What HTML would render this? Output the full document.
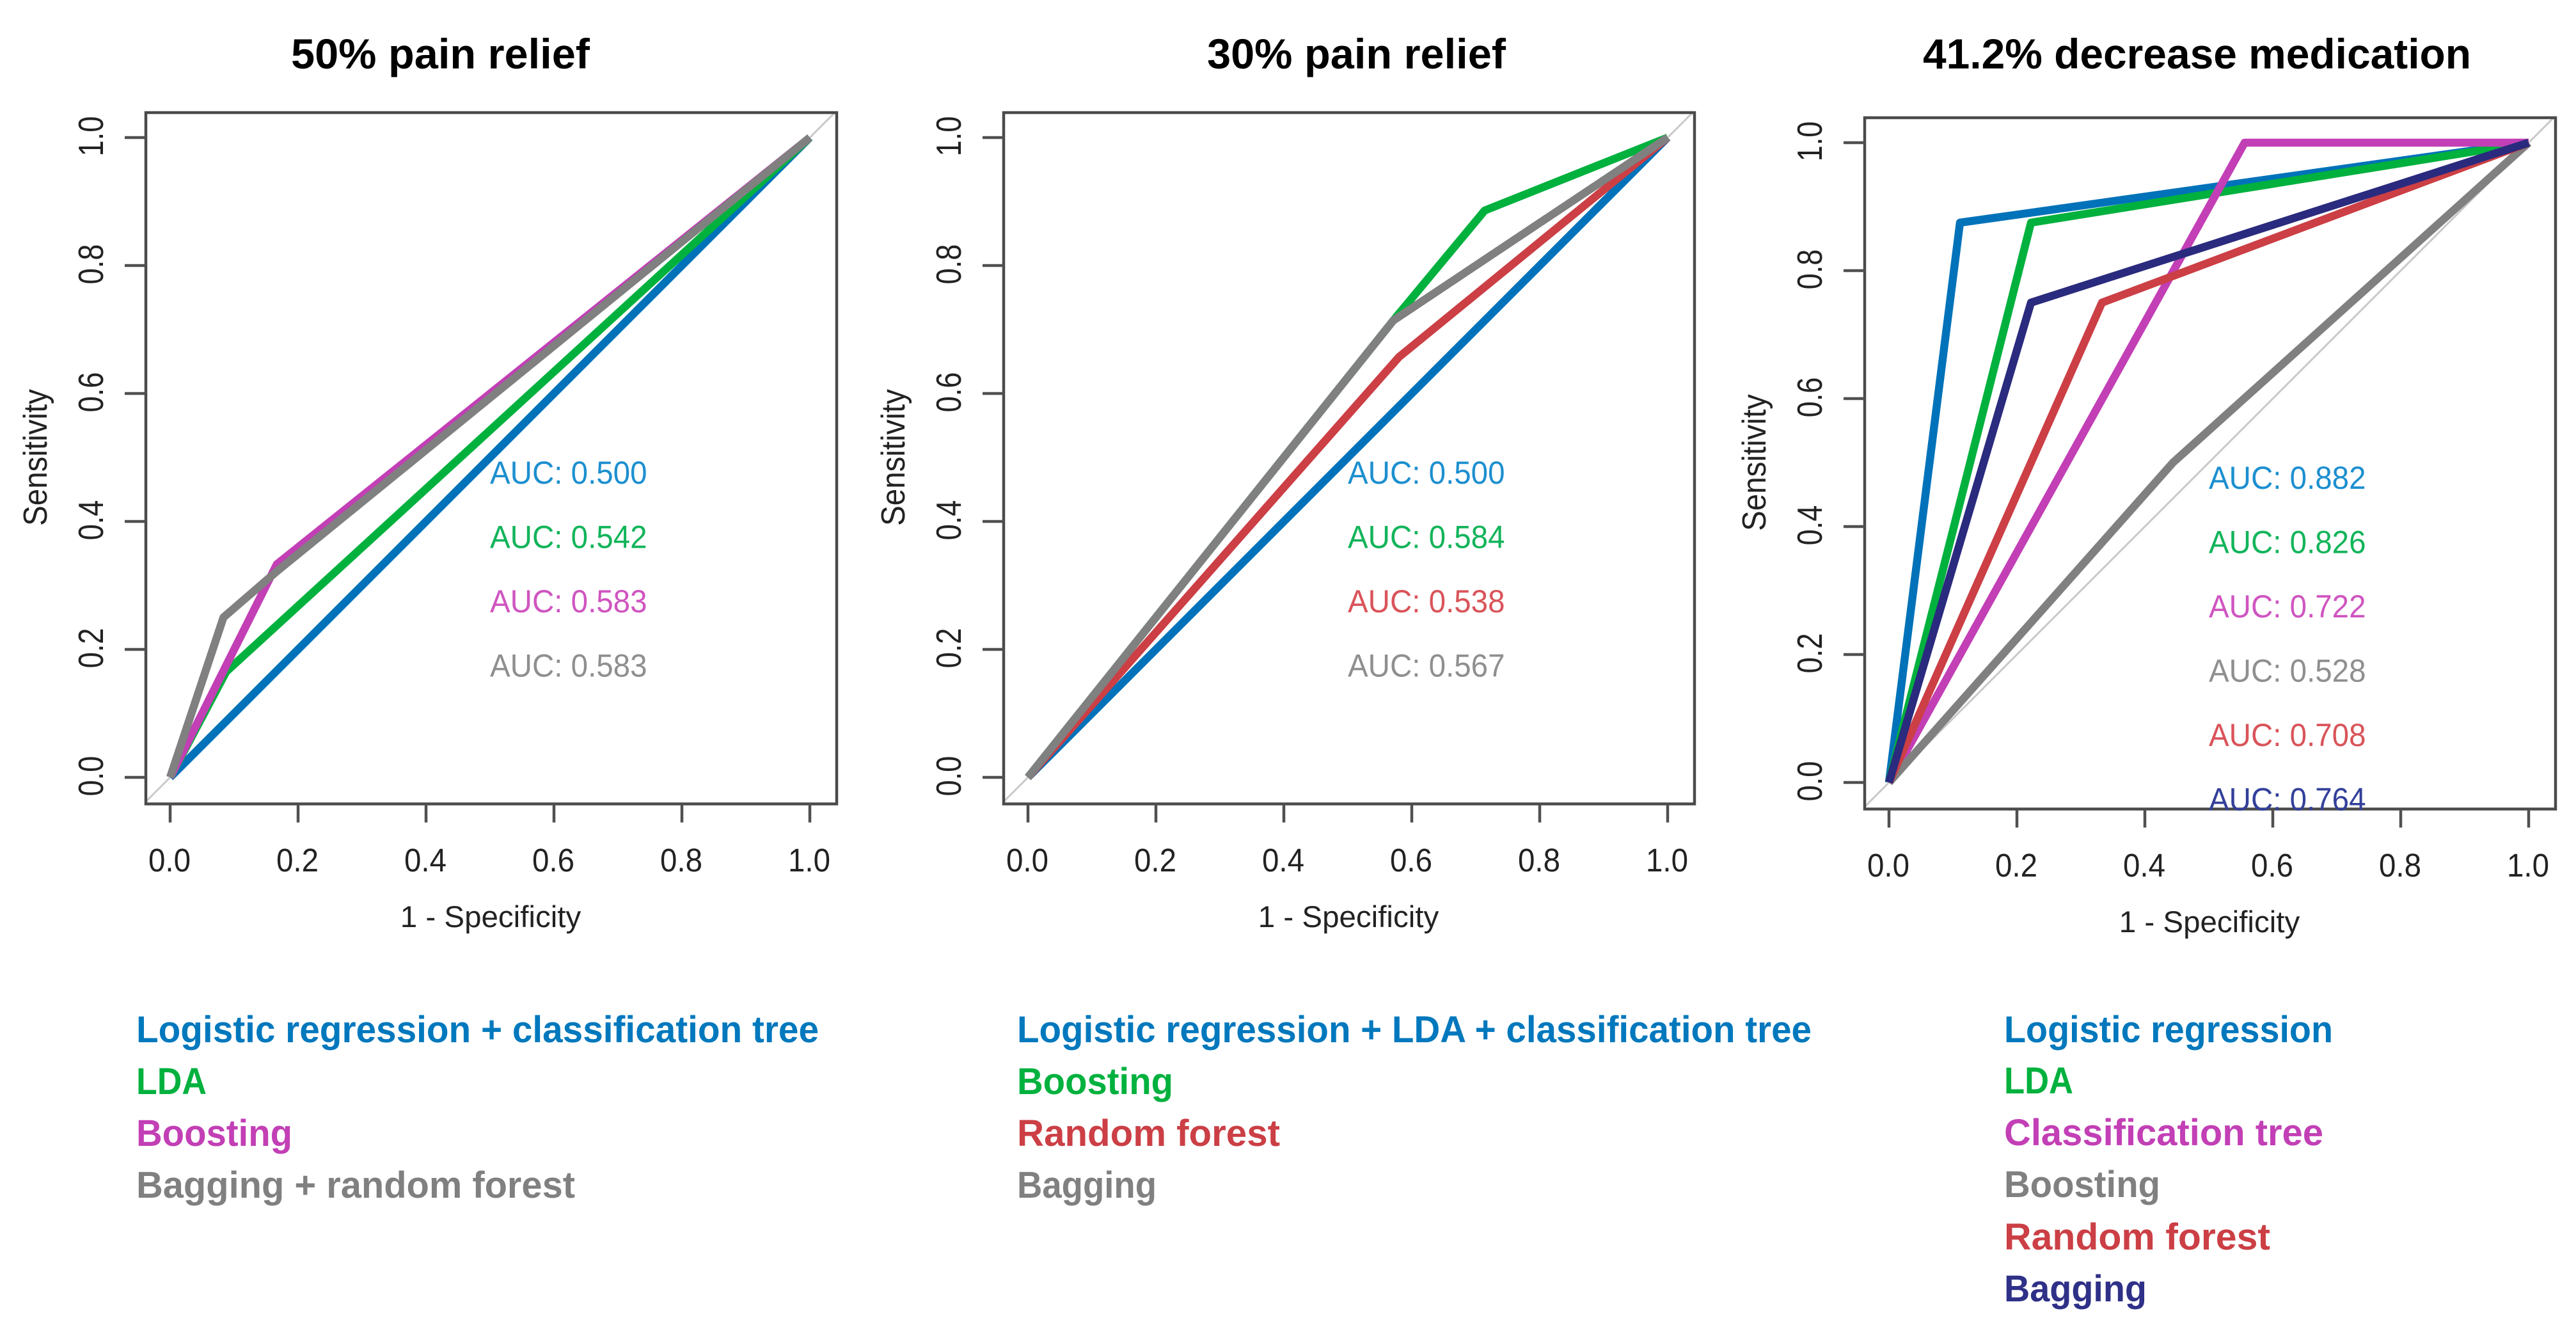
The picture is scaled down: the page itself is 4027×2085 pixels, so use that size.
<!DOCTYPE html>
<html lang="en">
<head>
<meta charset="utf-8">
<title>ROC curves for pain relief and medication outcomes</title>
<style>
html,body{margin:0;padding:0;background:#fff;width:4027px;height:2085px;overflow:hidden}
svg{display:block}
.title{font:bold 66px "Liberation Sans",sans-serif;fill:#000}
.legend{font:bold 58px "Liberation Sans",sans-serif}
.axis-text{font:47.5px "Liberation Sans",sans-serif;fill:#222}
.auc{font:47.5px "Liberation Sans",sans-serif}
</style>
</head>
<body>
<svg id="figure" xmlns="http://www.w3.org/2000/svg" width="4027" height="2085" viewBox="0 0 4027 2085">
  <rect width="4027" height="2085" fill="#fff"/>

  <text class="title" x="455" y="107" textLength="467" lengthAdjust="spacingAndGlyphs">50% pain relief</text>
  <text class="title" x="1887" y="107" textLength="467" lengthAdjust="spacingAndGlyphs">30% pain relief</text>
  <text class="title" x="3006" y="107" textLength="857" lengthAdjust="spacingAndGlyphs">41.2% decrease medication</text>

  <g>
    <text class="legend" x="213" y="1629" fill="#0078bd" textLength="1067" lengthAdjust="spacingAndGlyphs">Logistic regression + classification tree</text>
    <text class="legend" x="213" y="1710" fill="#00b13e" textLength="110" lengthAdjust="spacingAndGlyphs">LDA</text>
    <text class="legend" x="213" y="1791" fill="#c23fb5" textLength="244" lengthAdjust="spacingAndGlyphs">Boosting</text>
    <text class="legend" x="213" y="1872" fill="#808080" textLength="686" lengthAdjust="spacingAndGlyphs">Bagging + random forest</text>
  </g>
  <g>
    <text class="legend" x="1590" y="1629" fill="#0078bd" textLength="1242" lengthAdjust="spacingAndGlyphs">Logistic regression + LDA + classification tree</text>
    <text class="legend" x="1590" y="1710" fill="#00b13e" textLength="244" lengthAdjust="spacingAndGlyphs">Boosting</text>
    <text class="legend" x="1590" y="1791" fill="#cb3f45" textLength="411" lengthAdjust="spacingAndGlyphs">Random forest</text>
    <text class="legend" x="1590" y="1872" fill="#808080" textLength="218" lengthAdjust="spacingAndGlyphs">Bagging</text>
  </g>
  <g>
    <text class="legend" x="3133" y="1629" fill="#0078bd" textLength="514" lengthAdjust="spacingAndGlyphs">Logistic regression</text>
    <text class="legend" x="3133" y="1709" fill="#00b13e" textLength="108" lengthAdjust="spacingAndGlyphs">LDA</text>
    <text class="legend" x="3133" y="1790" fill="#c23fb5" textLength="499" lengthAdjust="spacingAndGlyphs">Classification tree</text>
    <text class="legend" x="3133" y="1871" fill="#808080" textLength="244" lengthAdjust="spacingAndGlyphs">Boosting</text>
    <text class="legend" x="3133" y="1953" fill="#cb3f45" textLength="416" lengthAdjust="spacingAndGlyphs">Random forest</text>
    <text class="legend" x="3133" y="2034" fill="#2f3087" textLength="223" lengthAdjust="spacingAndGlyphs">Bagging</text>
  </g>
</svg>

<script>
// Shared axis data
const tickValues = [0, 0.2, 0.4, 0.6, 0.8, 1];
const tickLabels = ["0.0", "0.2", "0.4", "0.6", "0.8", "1.0"];

// Panel A: 50% pain relief
const aLogitX = [0, 1];
const aLogitY = [0, 1];
const aLdaX = [0, 0.0875, 1];
const aLdaY = [0, 0.165, 1];
const aBoostX = [0, 0.1667, 1];
const aBoostY = [0, 0.333, 1];
const aBagX = [0, 0.0833, 0.1667, 1];
const aBagY = [0, 0.25, 0.322, 1];
const aAuc = ["0.500", "0.542", "0.583", "0.583"];

// Panel B: 30% pain relief
const bLogitX = [0, 1];
const bLogitY = [0, 1];
const bBoostX = [0, 0.571, 0.714, 1];
const bBoostY = [0, 0.714, 0.886, 1];
const bForestX = [0, 0.58, 1];
const bForestY = [0, 0.657, 1];
const bBagX = [0, 0.571, 1];
const bBagY = [0, 0.714, 1];
const bAuc = ["0.500", "0.584", "0.538", "0.567"];

// Panel C: 41.2% decrease medication
const cLogitX = [0, 0.111, 1];
const cLogitY = [0, 0.875, 1];
const cLdaX = [0, 0.222, 1];
const cLdaY = [0, 0.875, 1];
const cTreeX = [0, 0.556, 1];
const cTreeY = [0, 1, 1];
const cBoostX = [0, 0.444, 1];
const cBoostY = [0, 0.5, 1];
const cForestX = [0, 0.333, 1];
const cForestY = [0, 0.75, 1];
const cBagX = [0, 0.222, 1];
const cBagY = [0, 0.75, 1];
const cAuc = ["0.882", "0.826", "0.722", "0.528", "0.708", "0.764"];

const BLUE = "#0072b9", GREEN = "#00b13e", MAGENTA = "#c23fb5", GREY = "#808080", RED = "#cb3f45", NAVY = "#2a2a7e";
const AUC_BLUE = "#1c8fcf", AUC_GREEN = "#12b45a", AUC_MAGENTA = "#cf55c0", AUC_GREY = "#8f8f8f", AUC_RED = "#d9545a", AUC_NAVY = "#33409a";

const panels = [
  { name: "50-pain-relief", x0: 266, y0: 1215, aucs: aAuc, series: [
    ["logistic-classification-tree", aLogitX, aLogitY, BLUE, AUC_BLUE],
    ["lda", aLdaX, aLdaY, GREEN, AUC_GREEN],
    ["boosting", aBoostX, aBoostY, MAGENTA, AUC_MAGENTA],
    ["bagging-random-forest", aBagX, aBagY, GREY, AUC_GREY]
  ]},
  { name: "30-pain-relief", x0: 1607, y0: 1215, aucs: bAuc, series: [
    ["logistic-lda-classification-tree", bLogitX, bLogitY, BLUE, AUC_BLUE],
    ["boosting", bBoostX, bBoostY, GREEN, AUC_GREEN],
    ["random-forest", bForestX, bForestY, RED, AUC_RED],
    ["bagging", bBagX, bBagY, GREY, AUC_GREY]
  ]},
  { name: "decrease-medication", x0: 2953, y0: 1223, aucs: cAuc, series: [
    ["logistic-regression", cLogitX, cLogitY, BLUE, AUC_BLUE],
    ["lda", cLdaX, cLdaY, GREEN, AUC_GREEN],
    ["classification-tree", cTreeX, cTreeY, MAGENTA, AUC_MAGENTA],
    ["boosting", cBoostX, cBoostY, GREY, AUC_GREY],
    ["random-forest", cForestX, cForestY, RED, AUC_RED],
    ["bagging", cBagX, cBagY, NAVY, AUC_NAVY]
  ]}
];

const NS = "http://www.w3.org/2000/svg";
const root = document.getElementById("figure");
const SPAN = 1000, X_TICK = 29, Y_TICK = 33;

function make(tag, parent, props) {
  const el = document.createElementNS(NS, tag);
  for (const k in props) el.setAttribute(k, props[k]);
  parent.appendChild(el);
  return el;
}

panels.forEach(function (p, pi) {
  const xs = function (v) { return p.x0 + v * SPAN; };
  const ys = function (v) { return p.y0 - v * SPAN; };

  const g = make("g", root, {});
  
  

  const left = xs(0) - 38, right = xs(1) + 42, top = ys(1) - 39, bottom = ys(0) + 41.5;

  const clipId = "plot-clip-" + pi;
  const defs = make("defs", g, {});
  const clip = make("clipPath", defs, { id: clipId });
  make("rect", clip, { x: left, y: top, width: right - left, height: bottom - top });

  const diag = make("line", g, { x1: left, y1: ys((left - p.x0) / SPAN), x2: right, y2: ys((right - p.x0) / SPAN), stroke: "#c9c9c9", "stroke-width": 3, "clip-path": "url(#" + clipId + ")" });
  
  

  p.series.forEach(function (s) {
    const pts = s[1].map(function (v, i) { return xs(v).toFixed(1) + "," + ys(s[2][i]).toFixed(1); }).join(" ");
    const line = make("polyline", g, { points: pts, fill: "none", stroke: s[3], "stroke-width": 12.5, "stroke-linejoin": "round", "stroke-linecap": "butt" });
    
    
  });

  const box = make("rect", g, { x: left, y: top, width: right - left, height: bottom - top, fill: "none", stroke: "#4a4a4a", "stroke-width": 4.5 });
  
  

  tickValues.forEach(function (v, i) {
    const tx = make("line", g, { x1: xs(v), x2: xs(v), y1: bottom, y2: bottom + X_TICK, stroke: "#505050", "stroke-width": 4.5 });
    
    

    const lx = make("text", g, { x: 0, y: 0, transform: "translate(" + (xs(v) - 1) + " " + (bottom + 105.5) + ") scale(1 1.08)", "text-anchor": "middle", class: "axis-text" });
    
    
    lx.textContent = tickLabels[i];

    const ty = make("line", g, { x1: left - Y_TICK, x2: left, y1: ys(v), y2: ys(v), stroke: "#505050", "stroke-width": 4.5 });
    
    

    const ly = make("text", g, { x: 0, y: 0, transform: "translate(" + (p.x0 - 105) + " " + (ys(v) - 2) + ") rotate(-90) scale(0.95 1.15)", "text-anchor": "middle", class: "axis-text" });
    
    
    ly.textContent = tickLabels[i];
  });

  const xt = make("text", g, { x: xs(0.5) + 1, y: p.y0 + 234, "text-anchor": "middle", class: "axis-text" });
  
  
  xt.textContent = "1 - Specificity";

  const yt = make("text", g, { x: 0, y: 0, transform: "translate(" + (p.x0 - 193) + " " + ys(0.5) + ") rotate(-90) scale(1 1.1)", "text-anchor": "middle", class: "axis-text" });
  
  
  yt.textContent = "Sensitivity";

  p.aucs.forEach(function (a, i) {
    const t = make("text", g, { x: 0, y: 0, transform: "translate(" + xs(0.5) + " " + ys(0.459 - i * 0.1005) + ") scale(1 1.06)", class: "auc", fill: p.series[i][4] });
    
    
    t.textContent = "AUC: " + a;
  });
});
</script>
</body>
</html>
